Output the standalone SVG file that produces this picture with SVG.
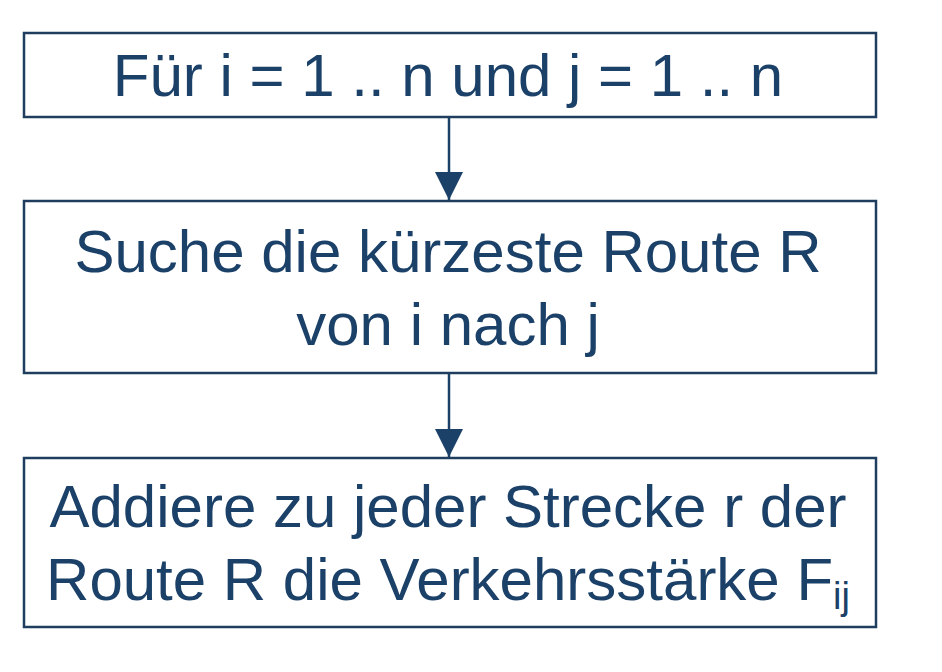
<svg xmlns="http://www.w3.org/2000/svg" width="942" height="672" viewBox="0 0 942 672">
<style>
.box{fill:#fff;stroke:#1f3d5e;stroke-width:2.5}
.t{font-family:"Liberation Sans",Arial,sans-serif;font-size:60px;fill:#1b4169;text-anchor:middle}
.c{stroke:#1b4169;stroke-width:2.5;fill:none}
</style>
<defs>
<marker id="ah" viewBox="0 0 28 30" refX="28" refY="14" markerWidth="28" markerHeight="30" markerUnits="userSpaceOnUse" orient="auto">
<path d="M0,0 L28,14 L0,28 z" fill="#1b4169"/>
</marker>
</defs>
<rect width="942" height="672" fill="#fff"/>
<g id="connectors">
<line class="c" x1="449" y1="117" x2="449" y2="200" marker-end="url(#ah)"/>
<line class="c" x1="449" y1="373" x2="449" y2="457" marker-end="url(#ah)"/>
</g>
<g id="node1">
<rect class="box" x="24" y="33" width="852" height="84"/>
<text class="t" x="448" y="96">Für i = 1 .. n und j = 1 .. n</text>
</g>
<g id="node2">
<rect class="box" x="24" y="201" width="852" height="172"/>
<text class="t" x="448" y="272">Suche die kürzeste Route R</text>
<text class="t" x="448" y="345">von i nach j</text>
</g>
<g id="node3">
<rect class="box" x="24" y="458" width="852" height="169"/>
<text class="t" x="448" y="527">Addiere zu jeder Strecke r der</text>
<text class="t" x="448" y="600">Route R die Verkehrsstärke F<tspan font-size="38" dy="9">ij</tspan></text>
</g>
</svg>
